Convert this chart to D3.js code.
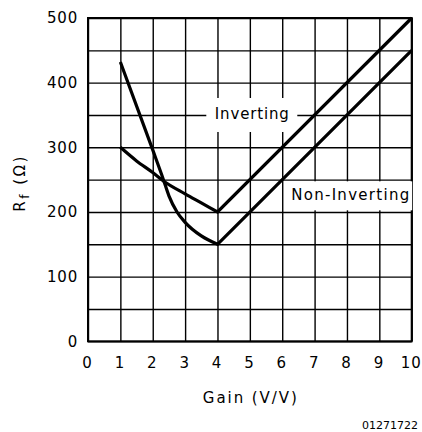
<!DOCTYPE html>
<html>
<head>
<meta charset="utf-8">
<script src="https://cdn.jsdelivr.net/npm/d3@7"></script>
<style>
  body { margin: 0; background: #fff; }
  text { font-family: "DejaVu Sans", sans-serif; fill: #000; }
</style>
</head>
<body>
<div id="content"></div>
<script>
// values
const gainTicks = [0, 1, 2, 3, 4, 5, 6, 7, 8, 9, 10];
const rfTicks = [0, 100, 200, 300, 400, 500];
const rfGrid = [0, 50, 100, 150, 200, 250, 300, 350, 400, 450, 500];

const invGain = [1, 1.5, 2, 2.33, 3, 3.5, 4, 10];
const invRf   = [300, 279, 261, 248, 228, 214, 200, 500];

const nonInvGain = [1, 2, 2.33, 2.5, 2.75, 3, 3.5, 4, 10];
const nonInvRf   = [432, 296, 250, 225, 200, 184, 163, 150, 450];

const W = 422, H = 432;
const plot = { left: 88, right: 411.7, top: 18, bottom: 341.3 };

const svg = d3.select('#content').append('svg')
  .attr('width', W).attr('height', H);

const x = d3.scaleLinear().domain([0, 10]).range([plot.left, plot.right]);
const y = d3.scaleLinear().domain([0, 500]).range([plot.bottom, plot.top]);

// grid
const gridX = svg.append('g')
  .attr('transform', `translate(0, ${plot.bottom})`)
  .call(d3.axisBottom(x).tickValues(gainTicks).tickSize(-(plot.bottom - plot.top)).tickFormat(''));
const gridY = svg.append('g')
  .attr('transform', `translate(${plot.left}, 0)`)
  .call(d3.axisLeft(y).tickValues(rfGrid).tickSize(-(plot.right - plot.left)).tickFormat(''));
[gridX, gridY].forEach(g => {
  g.select('.domain').remove();
  g.selectAll('line').attr('stroke', '#000').attr('stroke-width', 1.4);
});

// frame
svg.append('rect')
  .attr('x', plot.left).attr('y', plot.top)
  .attr('width', plot.right - plot.left).attr('height', plot.bottom - plot.top)
  .attr('fill', 'none').attr('stroke', '#000').attr('stroke-width', 2);

// tick labels
const xLab = svg.append('g')
  .attr('transform', `translate(0, ${plot.bottom})`)
  .call(d3.axisBottom(x).tickValues(gainTicks).tickSize(0).tickPadding(16));
const yLab = svg.append('g')
  .attr('transform', `translate(${plot.left}, 0)`)
  .call(d3.axisLeft(y).tickValues(rfTicks).tickSize(0).tickPadding(10));
[xLab, yLab].forEach(g => {
  g.select('.domain').remove();
  g.selectAll('text')
    .style('font-family', '"DejaVu Sans", sans-serif')
    .style('font-size', '15px')
    .attr('letter-spacing', 0.8)
    .attr('fill', '#000');
});
xLab.selectAll('text').attr('dx', -1);

// curves: smooth part up to gain 4, then straight
const pathFor = (gx, gy) => {
  const pts = gx.map((g, i) => [x(g), y(gy[i])]);
  const k = gx.indexOf(4);
  const curve = d3.line().curve(d3.curveMonotoneX)(pts.slice(0, k + 1));
  const rest = pts.slice(k + 1).map(p => `L${p[0]},${p[1]}`).join('');
  return curve + rest;
};

// label boxes (white, cover the grid)
const label = (txt, cx, cy, w, h, len) => {
  svg.append('rect')
    .attr('x', cx - w / 2).attr('y', cy - h / 2)
    .attr('width', w).attr('height', h)
    .attr('fill', '#fff');
  svg.append('text')
    .attr('x', cx).attr('y', cy - 1)
    .attr('text-anchor', 'middle').attr('dominant-baseline', 'central')
    .attr('font-size', 15)
    .attr('textLength', len).attr('lengthAdjust', 'spacing')
    .text(txt);
};
label('Inverting', x(5.06), y(350), 91, 34, 74);
label('Non-Inverting', x(8.1), y(225), 124, 29, 118);

[[invGain, invRf], [nonInvGain, nonInvRf]].forEach(([gx, gy]) => {
  svg.append('path')
    .attr('d', pathFor(gx, gy))
    .attr('fill', 'none')
    .attr('stroke', '#000')
    .attr('stroke-width', 3.2)
    .attr('stroke-linejoin', 'miter');
});

// axis titles
svg.append('text')
  .attr('x', x(5)).attr('y', 403)
  .attr('text-anchor', 'middle')
  .attr('font-size', 15)
  .attr('textLength', 94).attr('lengthAdjust', 'spacing')
  .text('Gain (V/V)');

const yt = svg.append('text')
  .attr('transform', `translate(25, 183) rotate(-90)`)
  .attr('text-anchor', 'middle')
  .attr('font-size', 15)
  .attr('letter-spacing', 2.5);
yt.append('tspan').text('R');
yt.append('tspan').attr('font-size', 12).attr('dy', 4).text('f');
yt.append('tspan').attr('dy', -4).text('\u00a0(\u03a9)');

svg.append('text')
  .attr('x', 418).attr('y', 429)
  .attr('text-anchor', 'end')
  .attr('font-size', 11)
  .attr('font-family', '"Liberation Sans", Arial, sans-serif')
  .text('01271722');
</script>
</body>
</html>
